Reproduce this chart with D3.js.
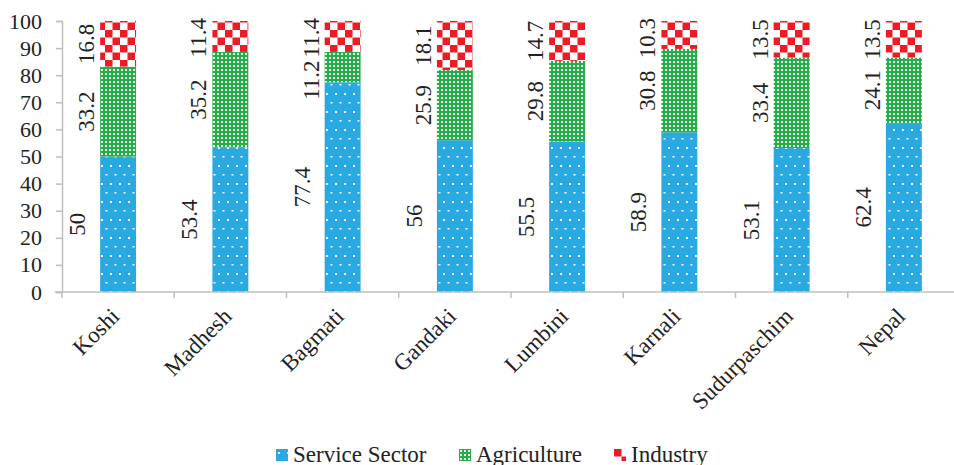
<!DOCTYPE html>
<html>
<head>
<meta charset="utf-8">
<script src="https://cdn.jsdelivr.net/npm/d3@7"></script>
<style>
  body { margin: 0; background: #fff; }
  text { font-family: "Liberation Serif", "Times New Roman", serif; fill: #222; }
</style>
</head>
<body>
<svg id="chart" width="954" height="465"></svg>
<script>
var regions = ["Koshi", "Madhesh", "Bagmati", "Gandaki", "Lumbini", "Karnali", "Sudurpaschim", "Nepal"];
var service = [50, 53.4, 77.4, 56, 55.5, 58.9, 53.1, 62.4];
var agriculture = [33.2, 35.2, 11.2, 25.9, 29.8, 30.8, 33.4, 24.1];
var industry = [16.8, 11.4, 11.4, 18.1, 14.7, 10.3, 13.5, 13.5];
var seriesNames = ["Service Sector", "Agriculture", "Industry"];
var yTicks = [0, 10, 20, 30, 40, 50, 60, 70, 80, 90, 100];

var svg = d3.select("#chart");
var plotLeft = 62, plotRight = 960, plotTop = 21, plotBottom = 292;

var x = d3.scaleBand().domain(regions).range([plotLeft, plotRight]).paddingInner(0.68).paddingOuter(0.34);
var xTick = d3.scaleBand().domain(regions).range([plotLeft, plotRight]);
var y = d3.scaleLinear().domain([0, 100]).range([plotBottom, plotTop]);

// patterns
var defs = svg.append("defs");
var pS = defs.append("pattern").attr("id", "pat0").attr("patternUnits", "userSpaceOnUse")
  .attr("width", 9).attr("height", 18);
pS.append("rect").attr("width", 9).attr("height", 18).attr("fill", "#29a9e1");
pS.append("rect").attr("x", 2).attr("y", 3).attr("width", 2).attr("height", 2).attr("fill", "#fff");
pS.append("rect").attr("x", 6.5).attr("y", 12).attr("width", 2).attr("height", 1.5).attr("fill", "#fff");

var pA = defs.append("pattern").attr("id", "pat1").attr("patternUnits", "userSpaceOnUse")
  .attr("width", 4).attr("height", 4);
pA.append("rect").attr("width", 4).attr("height", 4).attr("fill", "#25ae4a");
pA.append("rect").attr("x", 1).attr("y", 1).attr("width", 2).attr("height", 2).attr("fill", "#e8f7ea");

var pI = defs.append("pattern").attr("id", "pat2").attr("patternUnits", "userSpaceOnUse")
  .attr("width", 15).attr("height", 15);
pI.append("rect").attr("width", 15).attr("height", 15).attr("fill", "#fff");
pI.append("rect").attr("width", 7.5).attr("height", 7.5).attr("fill", "#ed1c24");
pI.append("rect").attr("x", 7.5).attr("y", 7.5).attr("width", 7.5).attr("height", 7.5).attr("fill", "#ed1c24");

var table = regions.map(function(r, i) {
  return {region: r, "Service Sector": service[i], "Agriculture": agriculture[i], "Industry": industry[i]};
});
var stacked = d3.stack().keys(seriesNames)(table);

// y axis
var yAxis = svg.append("g")
  .attr("transform", "translate(" + plotLeft + ",0)")
  .call(d3.axisLeft(y).tickValues(yTicks).tickSize(6).tickPadding(14));
yAxis.select(".domain").attr("stroke", "#bfbfbf").attr("stroke-width", 1.5);
yAxis.selectAll(".tick line").attr("stroke", "#bfbfbf").attr("stroke-width", 1.5);
yAxis.selectAll(".tick text").style("font-size", "22px").style("font-family", "Liberation Serif").attr("fill", "#222");

// bars
var layers = svg.append("g").selectAll("g").data(stacked).enter().append("g")
  .attr("fill", function(d, i) { return "url(#pat" + i + ")"; });
layers.selectAll("rect").data(function(d) { return d; }).enter().append("rect")
  .attr("x", function(d) { return x(d.data.region); })
  .attr("width", x.bandwidth())
  .attr("y", function(d) { return y(d[1]); })
  .attr("height", function(d) { return y(d[0]) - y(d[1]); });

// data labels (rotated, to the left of the bar)
var labelOffset = [-23, -14, -14];
var labels = stacked.map(function(s, si) {
  return s.map(function(d) {
    var t = svg.append("text")
      .attr("text-anchor", "middle")
      .attr("dy", "0.35em")
      .style("font-size", "23px")
      .text(d.data[s.key]);
    return {node: t, cx: x(d.data.region) + labelOffset[si], cy: y((d[0] + d[1]) / 2),
            half: t.node().getComputedTextLength() / 2};
  });
});
// keep top labels inside and stop agriculture / industry labels from overlapping
regions.forEach(function(r, i) {
  var a = labels[1][i], ind = labels[2][i];
  ind.cy = Math.max(ind.cy, plotTop - 3 + ind.half);
  var gap = (a.cy - a.half) - (ind.cy + ind.half);
  if (gap < 3) a.cy += 3 - gap;
});
labels.forEach(function(list) {
  list.forEach(function(l) {
    l.node.attr("transform", "translate(" + l.cx + "," + l.cy + ") rotate(-90)");
  });
});

// x axis
var xAxisG = svg.append("g").attr("transform", "translate(0," + plotBottom + ")");
xAxisG.append("line").attr("x1", plotLeft - 7).attr("x2", plotRight).attr("stroke", "#bfbfbf").attr("stroke-width", 1.5);
xAxisG.selectAll(".xt").data(regions).enter().append("line")
  .attr("x1", function(d) { return xTick(d); }).attr("x2", function(d) { return xTick(d); })
  .attr("y1", 0).attr("y2", 6).attr("stroke", "#bfbfbf").attr("stroke-width", 1.5);
xAxisG.selectAll(".xl").data(regions).enter().append("text")
  .attr("transform", function(d) {
    return "translate(" + (xTick(d) + xTick.bandwidth() / 2 - 3) + ",20) rotate(-45)";
  })
  .attr("text-anchor", "end")
  .attr("dy", "0.35em")
  .style("font-size", "23px")
  .text(function(d) { return d; });

// legend
var legendX = [276, 459, 614];
var legend = svg.append("g").selectAll("g").data(seriesNames).enter().append("g")
  .attr("transform", function(d, i) { return "translate(" + legendX[i] + ",449)"; });
legend.append("rect").attr("width", 12).attr("height", 12)
  .attr("fill", function(d, i) { return "url(#pat" + i + ")"; });
legend.append("text").attr("x", 17).attr("y", 13).style("font-size", "23px")
  .text(function(d) { return d; });
</script>
</body>
</html>
